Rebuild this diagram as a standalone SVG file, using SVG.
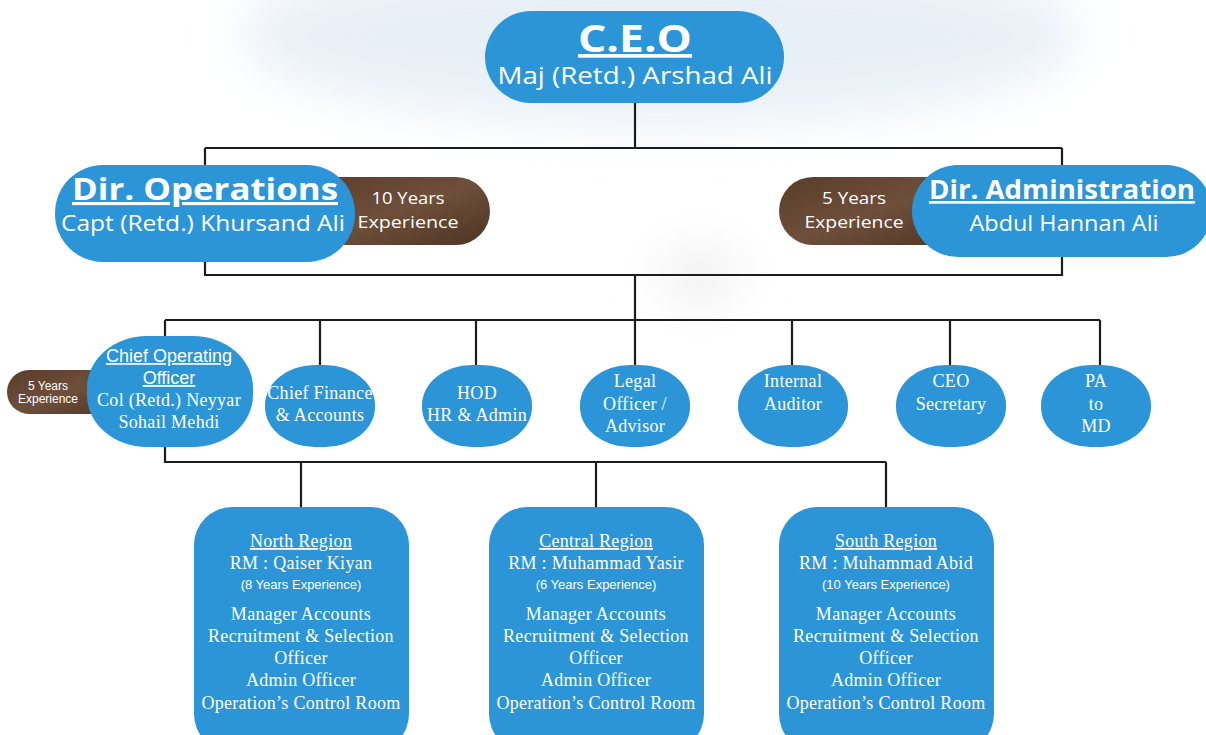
<svg xmlns="http://www.w3.org/2000/svg" width="1206" height="735" viewBox="0 0 1206 735">
<style>
.node{fill:#2c95d7}
.pill{fill:url(#brown)}
.conn{stroke:#1c1c1c;stroke-width:2.2;fill:none}
.h{font-family:"Open Sans","DejaVu Sans",sans-serif;font-weight:bold;fill:#fff;text-anchor:middle;text-decoration:underline}
.s{font-family:"Open Sans","DejaVu Sans",sans-serif;fill:#fff;text-anchor:middle}
.sf{font-family:"Liberation Serif","DejaVu Serif",serif;fill:#fff;text-anchor:middle;font-size:18px;letter-spacing:0.3px}
.ss{font-family:"Liberation Sans",Arial,sans-serif;fill:#fff;text-anchor:middle}
.u{text-decoration:underline}
</style>
<defs>
<linearGradient id="brown" x1="0" y1="0" x2="1" y2="1">
<stop offset="0" stop-color="#5a3c2a"/>
<stop offset="0.5" stop-color="#6e4f3b"/>
<stop offset="1" stop-color="#4e3424"/>
</linearGradient>
<filter id="blur" x="-50%" y="-50%" width="200%" height="200%"><feGaussianBlur stdDeviation="25"/></filter>
</defs>
<rect width="1206" height="735" fill="#fff"/>
<g id="background" filter="url(#blur)">
<ellipse cx="660" cy="35" rx="420" ry="90" fill="#e8f0f7"/>
<ellipse cx="700" cy="275" rx="40" ry="25" fill="#ededed"/>
</g>

<g id="connectors" class="conn">
<path d="M635 103 V148 M205 148 H1062 M205 148 V176 M1062 148 V166"/>
<path d="M205 255 V275 H1062 V255 M635 275 V320"/>
<path d="M165 320 H1100 M165 320 V337 M320 320 V366 M476 320 V366 M635 320 V366 M792 320 V366 M950 320 V366 M1100 320 V366"/>
<path d="M165 446 V462 H886 M301 462 V508 M596 462 V508 M886 462 V508"/>
</g>

<g id="ceo">
<rect class="node" x="485" y="11" width="299" height="92" rx="46"/>
<text class="h" x="635" y="52" font-size="37" textLength="114" lengthAdjust="spacingAndGlyphs">C.E.O</text>
<text class="s" x="635" y="84" font-size="24" textLength="275" lengthAdjust="spacingAndGlyphs">Maj (Retd.) Arshad Ali</text>
</g>

<g id="dir-operations">
<rect class="pill" x="300" y="177" width="190" height="68" rx="34"/>
<text class="s" x="408" y="204" font-size="16" textLength="73" lengthAdjust="spacingAndGlyphs">10 Years</text>
<text class="s" x="408" y="228" font-size="16" textLength="101" lengthAdjust="spacingAndGlyphs">Experience</text>
<rect class="node" x="55" y="165" width="300" height="97" rx="48"/>
<text class="h" x="205" y="200" font-size="31" textLength="266" lengthAdjust="spacingAndGlyphs">Dir. Operations</text>
<text class="s" x="203" y="231" font-size="21" textLength="284" lengthAdjust="spacingAndGlyphs">Capt (Retd.) Khursand Ali</text>
</g>

<g id="dir-administration">
<rect class="pill" x="779" y="177" width="190" height="68" rx="34"/>
<text class="s" x="854" y="204" font-size="16" textLength="64" lengthAdjust="spacingAndGlyphs">5 Years</text>
<text class="s" x="854" y="228" font-size="16" textLength="99" lengthAdjust="spacingAndGlyphs">Experience</text>
<rect class="node" x="912" y="165" width="300" height="92" rx="46"/>
<text class="h" x="1062" y="199" font-size="27" textLength="266" lengthAdjust="spacingAndGlyphs">Dir. Administration</text>
<text class="s" x="1064" y="231" font-size="21" textLength="189" lengthAdjust="spacingAndGlyphs">Abdul Hannan Ali</text>
</g>

<g id="coo">
<rect class="pill" x="7" y="370" width="120" height="44" rx="22"/>
<text class="ss" x="48" y="390" font-size="12">5 Years</text>
<text class="ss" x="48" y="403" font-size="12">Experience</text>
<rect class="node" x="87" y="336" width="166" height="111" rx="60" ry="52"/>
<text class="ss u" x="169" y="362" font-size="18">Chief Operating</text>
<text class="ss u" x="169" y="384" font-size="18">Officer</text>
<text class="sf" x="169" y="406">Col (Retd.) Neyyar</text>
<text class="sf" x="169" y="428">Sohail Mehdi</text>
</g>

<g id="chief-finance">
<rect class="node" x="265" y="365" width="110" height="82" rx="50" ry="40"/>
<text class="sf" x="320" y="399">Chief Finance</text>
<text class="sf" x="320" y="421">&amp; Accounts</text>
</g>
<g id="hod-hr">
<rect class="node" x="422" y="365" width="110" height="82" rx="50" ry="40"/>
<text class="sf" x="477" y="399">HOD</text>
<text class="sf" x="477" y="421">HR &amp; Admin</text>
</g>
<g id="legal">
<rect class="node" x="580" y="365" width="110" height="82" rx="50" ry="40"/>
<text class="sf" x="635" y="387">Legal</text>
<text class="sf" x="635" y="410">Officer /</text>
<text class="sf" x="635" y="432">Advisor</text>
</g>
<g id="internal-auditor">
<rect class="node" x="738" y="365" width="110" height="82" rx="50" ry="40"/>
<text class="sf" x="793" y="387">Internal</text>
<text class="sf" x="793" y="410">Auditor</text>
</g>
<g id="ceo-secretary">
<rect class="node" x="896" y="365" width="110" height="82" rx="50" ry="40"/>
<text class="sf" x="951" y="387">CEO</text>
<text class="sf" x="951" y="410">Secretary</text>
</g>
<g id="pa-md">
<rect class="node" x="1041" y="365" width="110" height="82" rx="50" ry="40"/>
<text class="sf" x="1096" y="387">PA</text>
<text class="sf" x="1096" y="410">to</text>
<text class="sf" x="1096" y="432">MD</text>
</g>

<g id="north-region">
<rect class="node" x="194" y="507" width="215" height="245" rx="38"/>
<text class="sf u" x="301" y="547">North Region</text>
<text class="sf" x="301" y="569">RM : Qaiser Kiyan</text>
<text class="ss" x="301" y="589" font-size="13">(8 Years Experience)</text>
<text class="sf" x="301" y="620">Manager Accounts</text>
<text class="sf" x="301" y="642">Recruitment &amp; Selection</text>
<text class="sf" x="301" y="664">Officer</text>
<text class="sf" x="301" y="686">Admin Officer</text>
<text class="sf" x="301" y="709">Operation’s Control Room</text>
</g>
<g id="central-region">
<rect class="node" x="489" y="507" width="215" height="245" rx="38"/>
<text class="sf u" x="596" y="547">Central Region</text>
<text class="sf" x="596" y="569">RM : Muhammad Yasir</text>
<text class="ss" x="596" y="589" font-size="13">(6 Years Experience)</text>
<text class="sf" x="596" y="620">Manager Accounts</text>
<text class="sf" x="596" y="642">Recruitment &amp; Selection</text>
<text class="sf" x="596" y="664">Officer</text>
<text class="sf" x="596" y="686">Admin Officer</text>
<text class="sf" x="596" y="709">Operation’s Control Room</text>
</g>
<g id="south-region">
<rect class="node" x="779" y="507" width="215" height="245" rx="38"/>
<text class="sf u" x="886" y="547">South Region</text>
<text class="sf" x="886" y="569">RM : Muhammad Abid</text>
<text class="ss" x="886" y="589" font-size="13">(10 Years Experience)</text>
<text class="sf" x="886" y="620">Manager Accounts</text>
<text class="sf" x="886" y="642">Recruitment &amp; Selection</text>
<text class="sf" x="886" y="664">Officer</text>
<text class="sf" x="886" y="686">Admin Officer</text>
<text class="sf" x="886" y="709">Operation’s Control Room</text>
</g>
</svg>
